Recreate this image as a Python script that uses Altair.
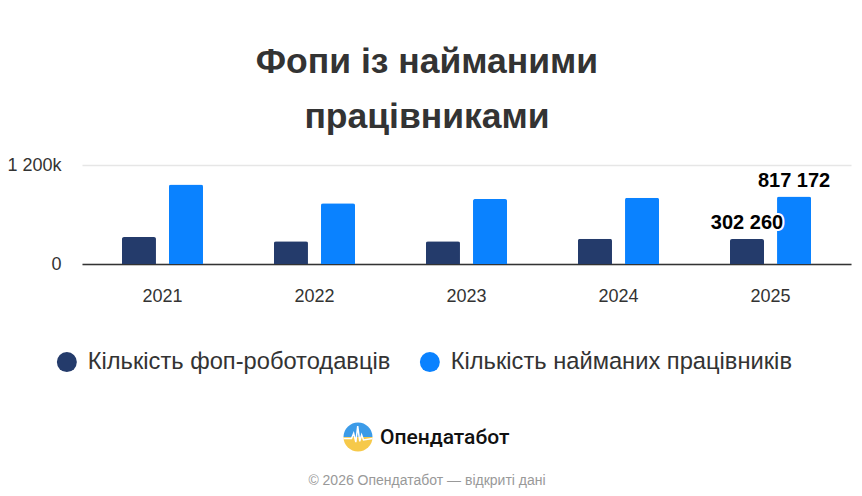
import altair as alt
import pandas as pd

years = ["2021", "2022", "2023", "2024", "2025"]
employers = [327000, 275000, 275000, 307000, 302260]
employees = [965000, 736000, 788000, 803000, 817172]
series = ["Кількість фоп-роботодавців", "Кількість найманих працівників"]
colors = ["#243b6b", "#0a82ff"]
title_lines = ["Фопи із найманими", "працівниками"]
brand = "Опендатабот"
footer = "© 2026 Опендатабот — відкриті дані"
y_ticks = [0, 1200000]
label_year = "2025"

rows = []
for i, yr in enumerate(years):
    rows.append({"year": yr, "series": series[0], "value": employers[i]})
    rows.append({"year": yr, "series": series[1], "value": employees[i]})
df = pd.DataFrame(rows)
one = pd.DataFrame({"k": [0]})

FONT = "Liberation Sans"

x = alt.X("year:N", sort=years, title=None,
          scale=alt.Scale(paddingInner=0.467, paddingOuter=0.263),
          axis=alt.Axis(labelFontSize=18, labelColor="#333", labelPadding=23, ticks=False,
                        domainColor="#333", domainWidth=1.5, labelAngle=0, labelFont=FONT))
xo = alt.XOffset("series:N", sort=series, scale=alt.Scale(paddingInner=0.277, paddingOuter=0))
y = alt.Y("value:Q", title=None, scale=alt.Scale(domain=[0, 1200000], nice=False),
          axis=alt.Axis(values=y_ticks, ticks=False, domain=False, labelFontSize=18,
                        labelColor="#333", labelPadding=21, labelFont=FONT,
                        gridColor="#e6e6e6", gridWidth=1.5,
                        labelExpr="datum.value == 0 ? '0' : replace(format(datum.value/1000, ','), ',', ' ') + 'k'"))
color = alt.Color("series:N", sort=series, scale=alt.Scale(domain=series, range=colors),
                  legend=alt.Legend(orient="none", legendX=-27, legendY=185, direction="horizontal",
                                    title=None, symbolType="circle", symbolSize=400,
                                    symbolStrokeWidth=0, labelFontSize=23.7, labelColor="#333",
                                    labelFont=FONT, labelOffset=9, columnPadding=27, labelLimit=0))

base = alt.Chart(df)
bars = base.mark_bar(cornerRadiusTopLeft=2, cornerRadiusTopRight=2).encode(
    x=x, xOffset=xo, y=y, color=color)

lab = base.transform_filter(alt.datum.year == label_year).transform_calculate(
    label="replace(format(datum.value, ','), ',', ' ')")
halo = lab.mark_text(fontSize=20, fontWeight="bold", font=FONT, dy=-10, baseline="alphabetic",
                     fill="white", stroke="white", strokeWidth=4, strokeJoin="round").encode(
    x=x, xOffset=xo, y=y, text="label:N")
labels = lab.mark_text(fontSize=20, fontWeight="bold", font=FONT, dy=-10, baseline="alphabetic",
                       fill="black").encode(x=x, xOffset=xo, y=y, text="label:N")

title = alt.Chart(one).mark_text(fontSize=35.5, fontWeight="bold", font=FONT, color="#333",
                                 baseline="alphabetic", align="center", lineHeight=55).encode(
    x=alt.value(345), y=alt.value(-92), text=alt.value(title_lines))

logo_top = alt.Chart(one).mark_arc(theta=4.712389, theta2=7.853982, radius=14.5,
                                   color="#3c9be8").encode(x=alt.value(276), y=alt.value(272))
logo_bot = alt.Chart(one).mark_arc(theta=1.570796, theta2=4.712389, radius=14.5,
                                   color="#f6c94a").encode(x=alt.value(276), y=alt.value(272))
zig = alt.Chart(one).mark_point(
    shape="M-1,0.1 L-0.45,0.1 L-0.3,-0.25 L-0.15,0.35 L-0.02,-0.75 L0.12,0.3 L0.25,-0.15 L0.38,0.2 L1,0.1",
    size=841, filled=False, stroke="white", strokeWidth=1.5, opacity=1).encode(
    x=alt.value(276), y=alt.value(272))
brand_t = alt.Chart(one).mark_text(fontSize=21, fontWeight=500, font="Roboto", color="#111",
                                   baseline="alphabetic", align="left").encode(
    x=alt.value(298), y=alt.value(279), text=alt.value(brand))
foot = alt.Chart(one).mark_text(fontSize=14, font=FONT, color="#999",
                                baseline="alphabetic", align="center").encode(
    x=alt.value(345), y=alt.value(320), text=alt.value(footer))

chart = alt.layer(bars, halo, labels, title, logo_top, logo_bot, zig, brand_t, foot).properties(
    width=769, height=99,
    padding={"left": 74, "top": 157, "right": 2, "bottom": 224},
    autosize=alt.AutoSizeParams(type="none"),
).configure_view(stroke=None)

chart.save("out.html", embed_options={"renderer": "svg", "actions": False})
